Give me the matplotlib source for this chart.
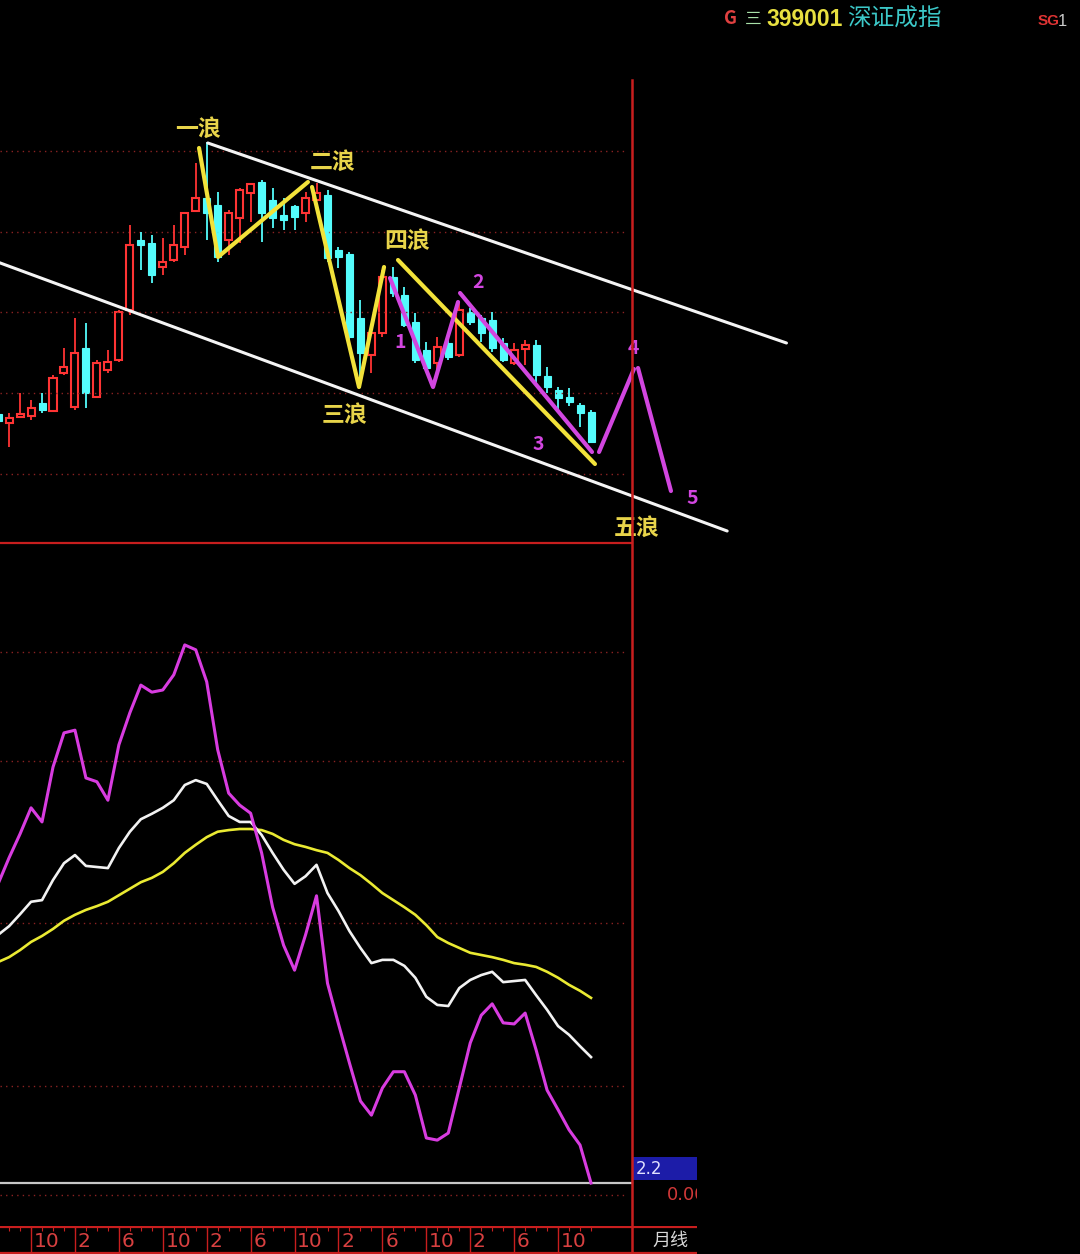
import matplotlib
matplotlib.use("Agg")
import matplotlib.pyplot as plt
from matplotlib.patches import Rectangle

plt.rcParams['font.family'] = ['Noto Sans CJK SC', 'DejaVu Sans']

# ---------------- data (monthly, Jul-2019 .. Jan-2024) ----------------
months = list(range(55))  # 0 = 2019-07
opens  = [9525, 9300, 9450, 9475, 9800, 9600, 10550, 9700, 11175, 9950,
          10625, 10875, 12125, 13875, 13800, 13200, 13375, 13700, 14600, 14925,
          14750, 13875, 14425, 15050, 15325, 14875, 14500, 14725, 14550, 14875,
          15000, 13625, 13525, 11925, 11000, 11550, 12950, 12500, 11825, 11125,
          10800, 11300, 11000, 12075, 11925, 11875, 11300, 10800, 11150, 11250,
          10475, 10125, 9950, 9750, 9575]
highs  = [9625, 9550, 10050, 9875, 10050, 10500, 11175, 11925, 11800, 10875,
          11125, 12125, 14250, 14075, 14000, 13925, 14250, 14575, 15800, 16325,
          15075, 14625, 15175, 15300, 15375, 15175, 14925, 14750, 15075, 15300,
          15125, 13700, 13575, 12375, 11575, 13125, 13200, 12700, 12050, 11325,
          11450, 11425, 12325, 12175, 12000, 12075, 11425, 11300, 11375, 11375,
          10700, 10200, 10175, 9800, 9625]
lows   = [9250, 8700, 9450, 9375, 9550, 9575, 10500, 9625, 9675, 9925,
          10550, 10825, 12000, 13125, 12800, 13000, 13325, 13500, 14575, 13875,
          13325, 13500, 13800, 14325, 13825, 14175, 14125, 14125, 14325, 14875,
          13325, 13175, 11375, 10175, 10550, 11450, 12450, 11700, 10800, 10625,
          10450, 10875, 10950, 11750, 11325, 11075, 10825, 10750, 10750, 10300,
          10050, 9575, 9725, 9200, 8800]
closes = [9350, 9425, 9525, 9675, 9625, 10425, 10700, 11050, 10050, 10800,
          10825, 12075, 13750, 13750, 13000, 13325, 13750, 14550, 14925, 14550,
          13450, 14550, 15125, 15275, 14550, 14425, 14375, 14450, 14925, 15050,
          13425, 13450, 11450, 11050, 11550, 12950, 12550, 11750, 10875, 10675,
          11200, 10950, 12125, 11825, 11550, 11175, 10875, 11125, 11250, 10500,
          10200, 9925, 9825, 9550, 8825]

# indicator lines (lower panel)
ind_magenta = [57.3, 62.1, 66.5, 71.3, 68.7, 78.8, 85.1, 85.6, 76.8, 76.1,
               72.7, 82.9, 88.8, 93.9, 92.6, 93.0, 95.8, 101.3, 100.4, 94.5,
               82.0, 74.0, 71.8, 70.3, 63.0, 53.0, 46.0, 41.4, 47.9, 55.1,
               39.0, 31.5, 24.3, 17.3, 14.7, 19.7, 22.7, 22.7, 18.4, 10.5,
               10.1, 11.4, 19.7, 28.0, 33.1, 35.2, 31.7, 31.5, 33.5, 26.7,
               19.3, 15.7, 12.0, 9.2, 2.2]
ind_white = [47.9, 49.5, 51.7, 54.0, 54.3, 58.0, 61.1, 62.6, 60.6, 60.4,
             60.2, 63.9, 66.9, 69.2, 70.2, 71.3, 72.7, 75.5, 76.4, 75.7,
             72.7, 69.8, 68.7, 68.7, 66.3, 63.0, 59.9, 57.3, 58.7, 60.8,
             55.6, 52.3, 48.6, 45.5, 42.7, 43.3, 43.3, 42.2, 40.0, 36.5,
             35.0, 34.8, 38.1, 39.6, 40.5, 41.1, 39.2, 39.4, 39.6, 36.8,
             34.1, 31.1, 29.5, 27.4, 25.4]
ind_yellow = [42.9, 43.8, 45.1, 46.6, 47.7, 49.0, 50.5, 51.6, 52.5, 53.2,
              54.0, 55.2, 56.4, 57.6, 58.4, 59.5, 61.1, 63.0, 64.5, 65.9,
              66.9, 67.2, 67.4, 67.4, 67.2, 66.5, 65.4, 64.6, 64.1, 63.5,
              63.0, 61.7, 60.2, 58.9, 57.3, 55.6, 54.3, 53.0, 51.6, 49.7,
              47.5, 46.4, 45.5, 44.6, 44.2, 43.8, 43.3, 42.7, 42.4, 42.0,
              41.1, 40.0, 38.7, 37.6, 36.3]
last_value = 2.2

price_grid = [16100, 14075, 12075, 10050, 8025]
ind_grid = [100, 80, 50, 20, 0]

# date axis
date_tick_idx = [3, 7, 11, 15, 19, 23, 27, 31, 35, 39, 43, 47, 51]
date_labels = ["10", "2", "6", "10", "2", "6", "10", "2", "6", "10", "2", "6", "10"]

# hand-drawn channel / wave annotations (month index, price)
channel_upper = ([19.1, 71.8], [16300, 11300])
channel_lower = ([0.0, 66.4], [13320, 6600])
yellow_waves = [([18.3, 20.03, 28.22], [16175, 13450, 15325]),
                ([28.59, 32.87, 35.15], [15200, 10200, 13200]),
                ([36.42, 54.36], [13375, 8275])]
magenta_waves = [([35.69, 39.61, 41.89], [12925, 10200, 12325]),
                 ([42.07, 54.09], [12550, 8575]),
                 ([54.73, 57.91], [8575, 10650]),
                 ([58.28, 61.28], [10675, 7600])]
wave_labels = [("一浪", 18.2, 16650), ("二浪", 30.5, 15825), ("四浪", 37.24, 13850),
               ("三浪", 31.59, 9500), ("五浪", 58.19, 6675)]
sub_labels = [("1", 36.6, 11300), ("2", 43.71, 12825), ("3", 49.17, 8750),
              ("4", 57.82, 11175), ("5", 63.2, 7400)]

# ---------------- styling ----------------
BG = 'black'
RED = '#ff3434'
CYAN = '#54fcfc'
GRID = '#8a2222'
FRAME = '#c81e1e'
YEL_LINE = '#f2e23a'
YEL_TEXT = '#e8d44a'
MAG = '#d246e0'
NARROW = ['Liberation Sans Narrow', 'DejaVu Sans']
W, H = 1080, 1254
PXM = 10.98   # pixels per month
X0 = -1.9     # pixel x of month 0
XL = (0 - X0) / PXM
XR = (W - X0) / PXM
XSPLIT = (632 - X0) / PXM
XGRID_END = (627 - X0) / PXM

fig = plt.figure(figsize=(W / 100, H / 100), dpi=100, facecolor=BG)


def fy(ypx):
    return 1 - ypx / H


def add_ax(x0, y0, x1, y1):
    ax = fig.add_axes([x0 / W, fy(y1), (x1 - x0) / W, (y1 - y0) / H])
    ax.set_facecolor(BG)
    ax.set_axis_off()
    return ax


# ---- top (price) panel ----
ax = add_ax(0, 80, W, 543)
ax.set_xlim(XL, XR)
ax.set_ylim(6300, 17875)
for g in price_grid:
    ax.plot([XL, XGRID_END], [g, g], color=GRID, lw=1.0, ls=(0, (1, 3)))

bw = 0.64
for i, o, h, l, c in zip(months, opens, highs, lows, closes):
    if c >= o:
        ax.vlines(i, max(o, c), h, color=RED, lw=1.3)
        ax.vlines(i, l, min(o, c), color=RED, lw=1.3)
        ax.add_patch(Rectangle((i - bw / 2, o), bw, max(c - o, 15), fc=BG, ec=RED, lw=1.5))
    else:
        ax.vlines(i, l, h, color=CYAN, lw=1.3)
        ax.add_patch(Rectangle((i - bw / 2, c), bw, o - c, fc=CYAN, ec=CYAN, lw=0.8))

ax.plot(*channel_upper, color='#f4f4f4', lw=2.2, solid_capstyle='round')
ax.plot(*channel_lower, color='#f4f4f4', lw=2.2, solid_capstyle='round')
for xs, ys in yellow_waves:
    ax.plot(xs, ys, color=YEL_LINE, lw=3.0, solid_capstyle='round', solid_joinstyle='round')
for xs, ys in magenta_waves:
    ax.plot(xs, ys, color=MAG, lw=3.0, solid_capstyle='round', solid_joinstyle='round')
for t, x, y in wave_labels:
    ax.text(x, y, t, color=YEL_TEXT, fontsize=16.5, fontweight='bold', ha='center', va='center')
for t, x, y in sub_labels:
    ax.text(x, y, t, color=MAG, fontsize=14, fontweight='bold', ha='center', va='center')

# ---- lower (indicator) panel ----
ax2 = add_ax(0, 543, W, 1228)
ax2.set_xlim(XL, XR)
ax2.set_ylim(-6.08, 120.07)
for g in ind_grid:
    ax2.plot([XL, XGRID_END], [g, g], color=GRID, lw=1.0, ls=(0, (1, 3)))
ax2.plot([XL, XSPLIT], [last_value, last_value], color='#c8c8c8', lw=1.6)
ax2.plot(months, ind_yellow, color='#eaea32', lw=1.9)
ax2.plot(months, ind_white, color='#f2f2f2', lw=1.9)
ax2.plot(months, ind_magenta, color='#d83ce0', lw=2.2)
ax2.plot([XL, XSPLIT], [120.07, 120.07], color=FRAME, lw=1.6, clip_on=False)

# value labels at the right of the split line
axl = add_ax(632, 543, 697, 1228)
axl.set_xlim(0, 65)
axl.set_ylim(-6.08, 120.07)
axl.add_patch(Rectangle((1, last_value + 0.5), 64, 4.3, fc='#1c1ca8', ec='none'))
axl.text(4, last_value + 2.6, f"{last_value:.1f}", color='#e0e0ff', fontsize=12,
         ha='left', va='center', family=NARROW)
axl.text(74, 0, "0.00", color='#d03838', fontsize=13, ha='right', va='center',
         clip_on=True, family=NARROW)

# ---- date axis row ----
ax3 = add_ax(0, 1226, 697, 1254)
xr3 = (697 - X0) / PXM
ax3.set_xlim(XL, xr3)
ax3.set_ylim(0, 1)
ax3.plot([XL, xr3], [0.97, 0.97], color=FRAME, lw=1.6)
ax3.plot([XL, xr3], [0.04, 0.04], color=FRAME, lw=1.6)
ax3.vlines(months, 0.82, 0.97, color=FRAME, lw=0.8)
ax3.vlines(date_tick_idx, 0.04, 0.97, color=FRAME, lw=1.0)
for i, lab in zip(date_tick_idx, date_labels):
    ax3.text(i + 0.25, 0.45, lab, color='#d84040', fontsize=14.5, ha='left', va='center',
             family=NARROW)
ax3.text((670 - X0) / PXM, 0.45, "月线", color='#d8d8d8', fontsize=13, ha='center', va='center')

# split vertical line
fig.add_artist(plt.Line2D([632 / W, 632 / W], [fy(80), fy(1254)], color=FRAME, lw=1.8))

# ---- header ----
fig.text(724 / W, fy(19), "G", color='#e04040', fontsize=13, fontweight='bold', ha='left', va='center')
fig.text(745 / W, fy(19), "三", color='#a8e0a8', fontsize=12, ha='left', va='center')
fig.text(766 / W, fy(19), "399001", color='#e8e040', fontsize=16.5, fontweight='bold',
         ha='left', va='center', family=['Liberation Sans', 'DejaVu Sans'])
fig.text(847 / W, fy(19), "深证成指", color='#3cc8c8', fontsize=17, ha='left', va='center')
fig.text(1038 / W, fy(21), "SG", color='#e03434', fontsize=11, fontweight='bold', ha='left', va='center',
         family=['Liberation Sans', 'DejaVu Sans'])
fig.text(1058 / W, fy(21), "1", color='#c8c8c8', fontsize=12, ha='left', va='center',
         family=['Liberation Sans', 'DejaVu Sans'])

fig.savefig("out.png", dpi=100, facecolor=BG)
